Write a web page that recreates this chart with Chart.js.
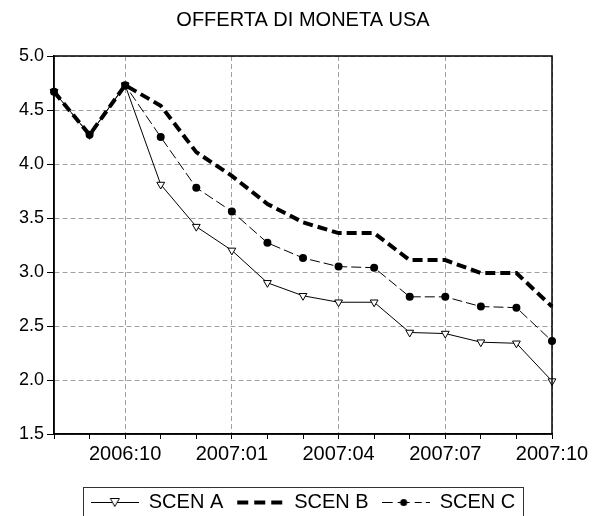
<!DOCTYPE html>
<html>
<head>
<meta charset="utf-8">
<script src="https://cdn.jsdelivr.net/npm/chart.js@4.4.1/dist/chart.umd.min.js"></script>
<style>
html,body{margin:0;padding:0;background:#fff;}
#wrap{width:601px;height:516px;overflow:hidden;}
</style>
</head>
<body>
<div id="wrap"><canvas id="c" width="601" height="516"></canvas></div>
<script>
const months = ['2006:08','2006:09','2006:10','2006:11','2006:12','2007:01','2007:02','2007:03','2007:04','2007:05','2007:06','2007:07','2007:08','2007:09','2007:10'];
const tickLabels = ['2006:10','2007:01','2007:04','2007:07','2007:10'];
const scenA = [4.67, 4.27, 4.73, 3.81, 3.42, 3.20, 2.90, 2.78, 2.72, 2.72, 2.44, 2.43, 2.35, 2.34, 1.99];
const scenB = [4.67, 4.27, 4.73, 4.54, 4.11, 3.89, 3.63, 3.46, 3.36, 3.36, 3.11, 3.11, 2.99, 2.99, 2.68];
const scenC = [4.67, 4.27, 4.73, 4.25, 3.78, 3.56, 3.27, 3.13, 3.05, 3.04, 2.77, 2.77, 2.68, 2.67, 2.36];
const seriesNames = ['SCEN A', 'SCEN B', 'SCEN C'];
const titleText = 'OFFERTA DI MONETA USA';

const FONT = "'Liberation Sans', Arial, sans-serif";
const GRID = '#a0a0a0';

function makeSymbol(kind) {
  const cv = document.createElement('canvas');
  cv.width = 48; cv.height = 20;
  const g = cv.getContext('2d');
  g.strokeStyle = '#000'; g.fillStyle = '#000';
  if (kind === 'A') {
    g.lineWidth = 1;
    g.beginPath(); g.moveTo(0, 10.5); g.lineTo(48, 10.5); g.stroke();
    g.beginPath(); g.moveTo(19.5, 6.5); g.lineTo(28.5, 6.5); g.lineTo(24, 14.5); g.closePath();
    g.fillStyle = '#fff'; g.fill(); g.stroke();
  } else if (kind === 'B') {
    g.lineWidth = 4;
    g.setLineDash([11, 6]);
    g.beginPath(); g.moveTo(1, 10.5); g.lineTo(48, 10.5); g.stroke();
  } else {
    g.lineWidth = 1;
    const segs = [[0, 11], [16, 28], [33, 40], [44, 48]];
    g.beginPath();
    segs.forEach(s => { g.moveTo(s[0], 10.5); g.lineTo(s[1], 10.5); });
    g.stroke();
    g.beginPath(); g.arc(22, 10.5, 3.5, 0, Math.PI * 2); g.fill();
  }
  return cv;
}
const symbols = [makeSymbol('A'), makeSymbol('B'), makeSymbol('C')];

const framePlugin = {
  id: 'frame',
  afterDatasetsDraw(chart) {
    const a = chart.chartArea, ctx = chart.ctx;
    ctx.save();
    ctx.strokeStyle = '#000'; ctx.lineWidth = 1.5;
    ctx.strokeRect(a.left, a.top, a.right - a.left, a.bottom - a.top);
    ctx.restore();
  },
  afterDraw(chart) {
    const lg = chart.legend;
    if (!lg || !lg.legendHitBoxes || !lg.legendHitBoxes.length) return;
    const hb = lg.legendHitBoxes;
    let l = Infinity, r = -Infinity;
    hb.forEach(b => { l = Math.min(l, b.left); r = Math.max(r, b.left + b.width); });
    const ctx = chart.ctx;
    ctx.save();
    ctx.strokeStyle = '#333'; ctx.lineWidth = 1;
    ctx.strokeRect(Math.round(l - 8) + 0.5, Math.round(lg.top + 8) + 0.5, Math.round(r - l + 16), 60);
    ctx.restore();
  }
};

new Chart(document.getElementById('c'), {
  type: 'line',
  data: {
    labels: months,
    datasets: [
      {
        label: seriesNames[0], data: scenA, order: 1,
        borderColor: '#000', borderWidth: 1, tension: 0,
        pointStyle: 'triangle', rotation: 180, pointRadius: 4.5,
        pointBackgroundColor: '#fff', pointBorderColor: '#000', pointBorderWidth: 1
      },
      {
        label: seriesNames[1], data: scenB, order: 2,
        borderColor: '#000', borderWidth: 4, borderDash: [10, 5], tension: 0,
        pointRadius: 0
      },
      {
        label: seriesNames[2], data: scenC, order: 0,
        borderColor: '#000', borderWidth: 1, borderDash: [10, 4], tension: 0,
        pointStyle: 'circle', pointRadius: 4,
        pointBackgroundColor: '#000', pointBorderColor: '#000', pointBorderWidth: 0
      }
    ]
  },
  options: {
    responsive: false,
    animation: false,
    devicePixelRatio: 1,
    layout: { padding: { left: 0, right: 49, top: 0, bottom: -6 } },
    plugins: {
      tooltip: { enabled: false },
      title: {
        display: true, text: titleText, fullSize: false,
        color: '#000', font: { family: FONT, size: 20, weight: 'normal' },
        padding: { top: 8, bottom: 24 }
      },
      legend: {
        display: true, position: 'bottom', fullSize: false,
        labels: {
          color: '#000', font: { family: FONT, size: 20 },
          usePointStyle: true, pointStyleWidth: 48, boxHeight: 20,
          padding: 13,
          sort: (a, b) => a.datasetIndex - b.datasetIndex,
          generateLabels(chart) {
            const items = Chart.defaults.plugins.legend.labels.generateLabels(chart);
            items.forEach(it => {
              it.pointStyle = symbols[it.datasetIndex];
              it.rotation = 0;
              it.fontColor = '#000';
            });
            return items;
          }
        }
      }
    },
    scales: {
      x: {
        type: 'category', offset: false,
        afterFit(s) { s.height = 45; },
        border: { display: true, color: '#000', width: 1.5, dash: [5, 3] },
        grid: {
          display: true, drawTicks: true, tickLength: 5,
          color: (c) => (c.tick && tickLabels.includes(months[c.index])) ? GRID : 'rgba(0,0,0,0)',
          tickColor: '#000', tickWidth: 1, lineWidth: 1
        },
        ticks: {
          autoSkip: false, maxRotation: 0, minRotation: 0, padding: 3,
          color: '#000', font: { family: FONT, size: 20 },
          callback: (v, i) => tickLabels.includes(months[i]) ? months[i] : ''
        }
      },
      y: {
        min: 1.5, max: 5.0,
        afterFit(s) { s.width = 54; },
        border: { display: true, color: '#000', width: 1.5, dash: [5, 3] },
        grid: {
          display: true, drawTicks: true, tickLength: 7,
          color: GRID, tickColor: '#000', tickWidth: 1, lineWidth: 1
        },
        ticks: {
          stepSize: 0.5, padding: 3,
          color: '#000', font: { family: FONT, size: 18 },
          callback: (v) => Number(v).toFixed(1)
        }
      }
    }
  },
  plugins: [framePlugin]
});
</script>
</body>
</html>
